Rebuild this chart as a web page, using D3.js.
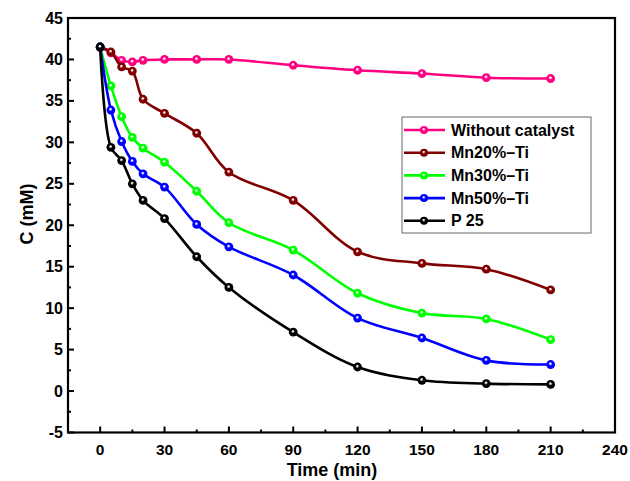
<!DOCTYPE html>
<html lang="en">
<head>
    <meta charset="UTF-8">
    <title>Concentration vs time</title>
    <script src="https://d3js.org/d3.v7.min.js"></script>
    <style>
        body { margin: 0; background: #fff; }
        text { font-family: "Liberation Sans", Arial, sans-serif; font-weight: bold; }
    </style>
</head>
<body>
<svg id="chart" width="630" height="481"></svg>
<script>
    const times = [0, 5, 10, 15, 20, 30, 45, 60, 90, 120, 150, 180, 210];
    const withoutCatalyst = [41.5, 40.8, 39.9, 39.7, 39.9, 40.0, 40.0, 40.0, 39.3, 38.7, 38.3, 37.8, 37.7];
    const mn20 = [41.5, 40.9, 39.1, 38.6, 35.2, 33.5, 31.1, 26.4, 23.0, 16.8, 15.4, 14.7, 12.2];
    const mn30 = [41.5, 36.8, 33.1, 30.6, 29.3, 27.6, 24.1, 20.3, 17.0, 11.8, 9.4, 8.7, 6.2];
    const mn50 = [41.5, 33.9, 30.1, 27.7, 26.2, 24.6, 20.1, 17.4, 14.0, 8.8, 6.4, 3.7, 3.2];
    const p25 = [41.5, 29.4, 27.8, 25.0, 23.0, 20.8, 16.2, 12.5, 7.1, 2.9, 1.3, 0.9, 0.8];

    const seriesNames = ["Without catalyst", "Mn20%\u2013Ti", "Mn30%\u2013Ti", "Mn50%\u2013Ti", "P 25"];
    const seriesColors = ["#ff0080", "#800000", "#00ff00", "#0000ff", "#000000"];
    const seriesValues = [withoutCatalyst, mn20, mn30, mn50, p25];

    const xTicks = [0, 30, 60, 90, 120, 150, 180, 210, 240];
    const yTicks = [-5, 0, 5, 10, 15, 20, 25, 30, 35, 40, 45];

    const plot = { left: 68, right: 615, top: 18, bottom: 432.5 };

    const svg = d3.select("#chart");

    const x = d3.scaleLinear().domain([-15, 240]).range([plot.left, plot.right]);
    const y = d3.scaleLinear().domain([-5, 45]).range([plot.bottom, plot.top]);

    // marker gradients: coloured ball with a small white highlight
    const defs = svg.append("defs");
    seriesColors.forEach((c, i) => {
        const g = defs.append("radialGradient")
            .attr("id", "ball" + i)
            .attr("cx", "50%").attr("cy", "50%").attr("r", "50%")
            .attr("fx", "45%").attr("fy", "38%");
        g.append("stop").attr("offset", "0%").attr("stop-color", "#fff");
        g.append("stop").attr("offset", "15%").attr("stop-color", "#fff").attr("stop-opacity", 0.85);
        g.append("stop").attr("offset", "42%").attr("stop-color", c);
        g.append("stop").attr("offset", "100%").attr("stop-color", c);
    });

    // ticks (inward)
    const xMinor = d3.range(15, 240, 30);
    const yMinor = d3.range(-2.5, 45, 5);
    const tickG = svg.append("g").attr("stroke", "#000").attr("stroke-width", 2);
    xTicks.forEach(t => tickG.append("line")
        .attr("x1", x(t)).attr("x2", x(t)).attr("y1", plot.bottom).attr("y2", plot.bottom - 6));
    xMinor.forEach(t => tickG.append("line")
        .attr("x1", x(t)).attr("x2", x(t)).attr("y1", plot.bottom).attr("y2", plot.bottom - 3));
    yTicks.forEach(t => tickG.append("line")
        .attr("x1", plot.left).attr("x2", plot.left + 6).attr("y1", y(t)).attr("y2", y(t)));
    yMinor.forEach(t => tickG.append("line")
        .attr("x1", plot.left).attr("x2", plot.left + 3).attr("y1", y(t)).attr("y2", y(t)));

    // frame
    svg.append("rect")
        .attr("x", plot.left).attr("y", plot.top)
        .attr("width", plot.right - plot.left).attr("height", plot.bottom - plot.top)
        .attr("fill", "none").attr("stroke", "#000").attr("stroke-width", 2.2);

    // tick labels
    svg.selectAll(".xlab").data(xTicks).enter().append("text")
        .attr("x", d => x(d)).attr("y", 455)
        .attr("text-anchor", "middle").style("font-size", "15.5px")
        .text(d => d);
    svg.selectAll(".ylab").data(yTicks).enter().append("text")
        .attr("x", 63).attr("y", d => y(d) + 5.5)
        .attr("text-anchor", "end").style("font-size", "16px")
        .text(d => d);

    // axis titles
    svg.append("text")
        .attr("x", 332).attr("y", 476)
        .attr("text-anchor", "middle").style("font-size", "18px")
        .text("Time (min)");
    svg.append("text")
        .attr("transform", "translate(33,214) rotate(-90)")
        .attr("text-anchor", "middle").style("font-size", "18px")
        .text("C (mM)");

    // curves
    const line = d3.line()
        .x((d, i) => x(times[i]))
        .y(d => y(d))
        .curve(d3.curveCatmullRom.alpha(0.5));

    seriesValues.forEach((vals, s) => {
        const g = svg.append("g");
        g.append("path")
            .attr("d", line(vals))
            .attr("fill", "none")
            .attr("stroke", seriesColors[s])
            .attr("stroke-width", 2.6);
        g.selectAll("circle").data(vals).enter().append("circle")
            .attr("cx", (d, i) => x(times[i]))
            .attr("cy", d => y(d))
            .attr("r", 4.4)
            .attr("fill", `url(#ball${s})`);
    });

    // legend
    const legend = svg.append("g");
    legend.append("rect")
        .attr("x", 402).attr("y", 117)
        .attr("width", 189).attr("height", 116)
        .attr("fill", "#fff").attr("stroke", "#666").attr("stroke-width", 1);
    seriesNames.forEach((name, i) => {
        const ly = 130 + i * 22.7;
        legend.append("line")
            .attr("x1", 404).attr("x2", 445).attr("y1", ly).attr("y2", ly)
            .attr("stroke", seriesColors[i]).attr("stroke-width", 2.6);
        legend.append("circle")
            .attr("cx", 424).attr("cy", ly).attr("r", 4)
            .attr("fill", `url(#ball${i})`);
        legend.append("text")
            .attr("x", 451).attr("y", ly + 5.5)
            .style("font-size", "16px")
            .text(name);
    });
</script>
</body>
</html>
